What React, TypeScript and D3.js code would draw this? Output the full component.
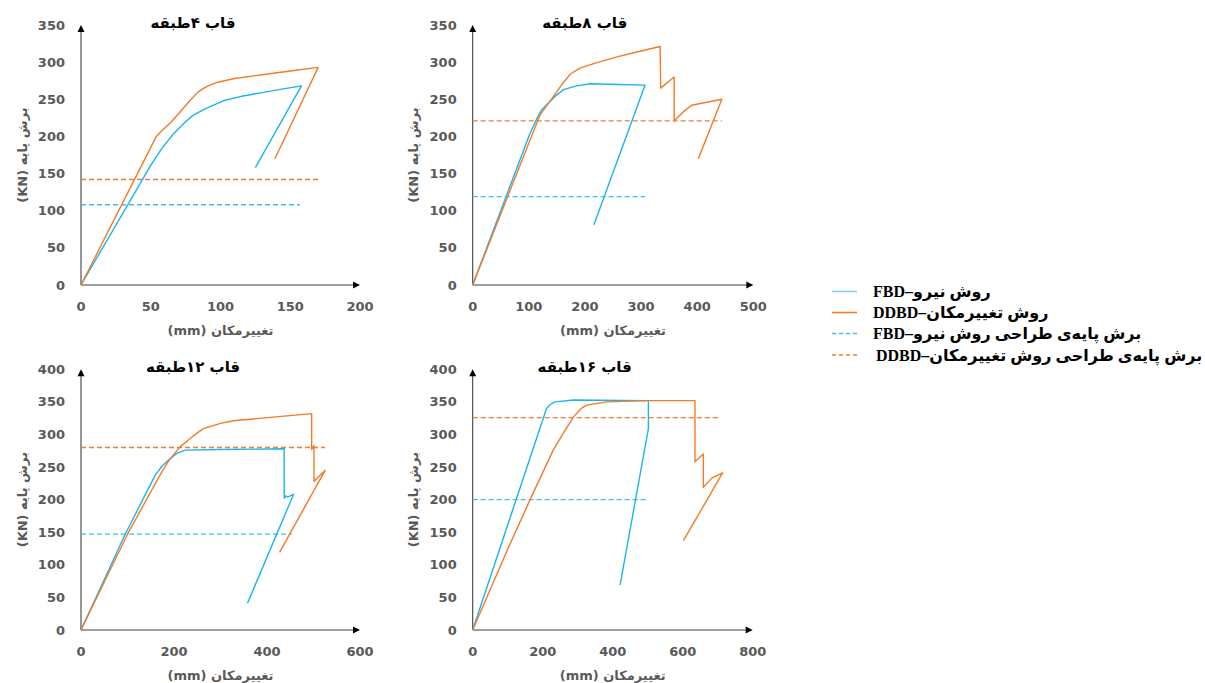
import React from "react";
import * as d3 from "d3";

type Pt = [number, number];

// ---------- data ----------
const frameTitles = ["قاب ۴طبقه", "قاب ۸طبقه", "قاب ۱۲طبقه", "قاب ۱۶طبقه"];

const xTicks4: number[] = [0, 50, 100, 150, 200];
const xTicks8: number[] = [0, 100, 200, 300, 400, 500];
const xTicks12: number[] = [0, 200, 400, 600];
const xTicks16: number[] = [0, 200, 400, 600, 800];
const yTicksTop: number[] = [0, 50, 100, 150, 200, 250, 300, 350];
const yTicksBottom: number[] = [0, 50, 100, 150, 200, 250, 300, 350, 400];

const fbd4: Pt[] = [[0, 0], [50, 161], [58, 184], [66, 203], [74, 218], [80, 228], [90, 238], [102, 248], [115, 254], [130, 259], [145, 264], [158, 268], [125, 158]];
const ddbd4: Pt[] = [[0, 0], [54, 200], [58, 208], [64, 218], [71, 233], [78, 248], [84, 260], [90, 267], [98, 273], [110, 278], [130, 283], [150, 288], [170, 293], [139, 170]];
const fbd8: Pt[] = [[0, 0], [102, 204], [115, 225], [123, 236], [135, 245], [150, 256], [162, 263], [185, 268], [210, 271], [260, 270], [307, 269], [216, 81]];
const ddbd8: Pt[] = [[0, 0], [102, 195], [120, 229], [144, 254], [160, 271], [174, 284], [191, 292], [220, 299], [257, 307], [300, 315], [334, 321], [335, 265], [359, 280], [359, 221], [375, 233], [390, 242], [444, 250], [402, 170]];
const fbd12: Pt[] = [[0, 0], [95, 147], [160, 238], [175, 252], [190, 262], [206, 271], [224, 276], [300, 277], [437, 278], [437, 202], [440, 206], [444, 204], [457, 208], [358, 41]];
const ddbd12: Pt[] = [[0, 0], [100, 147], [170, 238], [190, 261], [213, 281], [240, 297], [263, 309], [300, 317], [328, 321], [496, 332], [496, 277], [501, 283], [501, 228], [525, 245], [427, 119]];
const fbd16: Pt[] = [[0, 0], [211, 340], [222, 346], [235, 350], [288, 353], [502, 352], [502, 309], [421, 69]];
const ddbd16: Pt[] = [[0, 0], [100, 124], [164, 200], [230, 276], [260, 303], [288, 327], [310, 340], [326, 345], [383, 350], [502, 352], [635, 352], [635, 258], [659, 270], [659, 219], [683, 233], [714, 241], [602, 137]];

// design base shear: [value, x extent]
const fbdDesign: Pt[] = [[108, 157], [119, 307], [147, 453], [200, 502]];
const ddbdDesign: Pt[] = [[142, 170], [221, 444], [280, 525], [326, 709]];

const legendLabels = [
  "روش نیرو–FBD",
  "روش تغییرمکان–DDBD",
  "برش پایه‌ی طراحی روش نیرو–FBD",
  "برش پایه‌ی طراحی روش تغییرمکان–DDBD",
];

// ---------- layout / styles ----------
const BLUE = "#1DB4EC";
const ORANGE = "#F47A28";
const BLUE_D = "#3DBEF0";
const ORANGE_D = "#F07C3A";
const GRAY = "#595959";
const PFONT = "'DejaVu Sans', sans-serif";

const panels = [
  { left: 81, right: 360, top: 25, bottom: 285, xMax: 200, yMax: 350, xTicks: xTicks4, yTicks: yTicksTop, fbd: fbd4, ddbd: ddbd4 },
  { left: 472.7, right: 753.3, top: 25, bottom: 285, xMax: 500, yMax: 350, xTicks: xTicks8, yTicks: yTicksTop, fbd: fbd8, ddbd: ddbd8 },
  { left: 81, right: 360, top: 369.3, bottom: 630, xMax: 600, yMax: 400, xTicks: xTicks12, yTicks: yTicksBottom, fbd: fbd12, ddbd: ddbd12 },
  { left: 472.7, right: 752.7, top: 369.3, bottom: 630, xMax: 800, yMax: 400, xTicks: xTicks16, yTicks: yTicksBottom, fbd: fbd16, ddbd: ddbd16 },
];

function Panel({ p, i }: { p: (typeof panels)[number]; i: number }) {
  const x = d3.scaleLinear().domain([0, p.xMax]).range([p.left, p.right]);
  const y = d3.scaleLinear().domain([0, p.yMax]).range([p.bottom, p.top]);
  const line = d3
    .line<Pt>()
    .x((d) => x(d[0]))
    .y((d) => y(d[1]));
  const fd = fbdDesign[i];
  const dd = ddbdDesign[i];
  const cx = (p.left + p.right) / 2;
  const cy = (p.top + p.bottom) / 2;
  return (
    <g>
      {/* axes */}
      <line x1={x(0)} y1={y(0)} x2={x(p.xMax) - 4} y2={y(0)} stroke="#404040" strokeWidth={1.1} />
      <path d={`M${x(p.xMax)},${y(0)} l-7,-3.5 l0,7 z`} fill="#000" />
      <line x1={x(0)} y1={y(0)} x2={x(0)} y2={y(p.yMax) + 4} stroke="#404040" strokeWidth={1.1} />
      <path d={`M${x(0)},${y(p.yMax)} l-3.5,7 l7,0 z`} fill="#000" />
      {/* ticks labels */}
      {p.yTicks.map((t) => (
        <text key={"y" + t} x={p.left - 16} y={y(t)} textAnchor="end" dominantBaseline="central" fontFamily={PFONT} fontWeight="bold" fontSize={13} fill={GRAY}>
          {t}
        </text>
      ))}
      {p.xTicks.map((t) => (
        <text key={"x" + t} x={x(t)} y={p.bottom + 21} textAnchor="middle" dominantBaseline="central" fontFamily={PFONT} fontWeight="bold" fontSize={13} fill={GRAY}>
          {t}
        </text>
      ))}
      {/* design lines */}
      <line x1={x(0)} x2={x(fd[1])} y1={y(fd[0])} y2={y(fd[0])} stroke={BLUE_D} strokeWidth={1.3} strokeDasharray="5,3" />
      <line x1={x(0)} x2={x(dd[1])} y1={y(dd[0])} y2={y(dd[0])} stroke={ORANGE_D} strokeWidth={1.3} strokeDasharray="5,3" />
      {/* curves */}
      <path d={line(p.fbd) || ""} fill="none" stroke={BLUE} strokeWidth={1.4} strokeLinejoin="round" />
      <path d={line(p.ddbd) || ""} fill="none" stroke={ORANGE} strokeWidth={1.4} strokeLinejoin="round" />
      {/* title */}
      <text x={p.left + 112} y={p.top - 2} textAnchor="middle" dominantBaseline="central" direction="rtl" fontFamily={PFONT} fontWeight="bold" fontSize={15} fill="#000">
        {frameTitles[i]}
      </text>
      {/* axis labels */}
      <text x={cx} y={p.bottom + 45} textAnchor="middle" dominantBaseline="central" direction="rtl" fontFamily={PFONT} fontWeight="bold" fontSize={13} fill={GRAY}>
        تغییرمکان (mm)
      </text>
      <text transform={`translate(${p.left - 59},${cy}) rotate(-90)`} textAnchor="middle" dominantBaseline="central" direction="rtl" fontFamily={PFONT} fontWeight="bold" fontSize={13} fill={GRAY}>
        برش پایه (KN)
      </text>
    </g>
  );
}

export default function App() {
  const legendRows = [
    { y: 291.5, color: "#7FD3F3", dash: undefined as string | undefined, tx: 873 },
    { y: 312.5, color: ORANGE, dash: undefined as string | undefined, tx: 873 },
    { y: 333.5, color: BLUE_D, dash: "4,3", tx: 873 },
    { y: 355, color: ORANGE_D, dash: "4,3", tx: 876 },
  ];
  return (
    <svg width={1205} height={683} style={{ position: "absolute", left: 0, top: 0, background: "#fff" }}>
      {panels.map((p, i) => (
        <Panel key={i} p={p} i={i} />
      ))}
      {legendRows.map((r, i) => (
        <g key={i}>
          <line x1={832} x2={857} y1={r.y} y2={r.y} stroke={r.color} strokeWidth={1.6} strokeDasharray={r.dash} />
          <text x={r.tx} y={r.y} textAnchor="end" direction="rtl" dominantBaseline="central" fontFamily="'Liberation Serif', 'DejaVu Sans', serif" fontWeight="bold" fontSize={16} fill="#000">
            {legendLabels[i]}
          </text>
        </g>
      ))}
    </svg>
  );
}
